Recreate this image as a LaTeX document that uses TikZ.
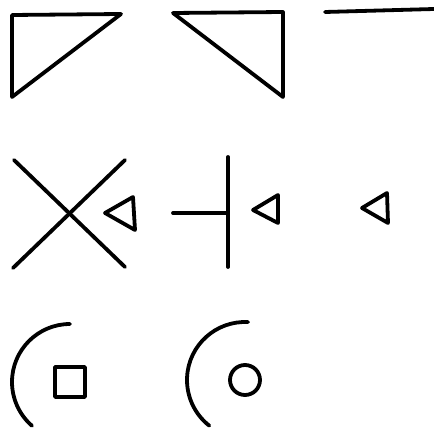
\documentclass[tikz,border=0pt]{standalone}
\begin{document}
\begin{tikzpicture}[x=1pt,y=-1pt,
  ink/.style={draw=black,line width=3.8pt,line cap=round,line join=round}]
\useasboundingbox (0,0) rectangle (434,430);
% row 1
\draw[ink] (12,15) -- (121,14) -- (12,97) -- cycle;
\draw[ink] (173,13) -- (283,12) -- (283,97) -- cycle;
\draw[ink] (325,12) -- (434,9);
% row 2
\draw[ink] (14,160) -- (125,267);
\draw[ink] (125,160) -- (13,268);
\draw[ink] (105,213) -- (133,197) -- (135,230) -- cycle;
\draw[ink] (228,157) -- (228,267);
\draw[ink] (173,213) -- (228,213);
\draw[ink] (253,210) -- (278,195) -- (278,223) -- cycle;
\draw[ink] (362,208) -- (387,193) -- (388,223) -- cycle;
% row 3
\coordinate (c1) at (70,382);
\coordinate (c2) at (245,380);
\draw[ink] (c1) ++(-90:58) arc[start angle=-90,end angle=-229,radius=58];
\draw[ink] (55,367) rectangle (85,397);
\draw[ink] (c2) ++(-87:58) arc[start angle=-87,end angle=-232,radius=58];
\draw[ink] (c2) circle (15);
\end{tikzpicture}
\end{document}
